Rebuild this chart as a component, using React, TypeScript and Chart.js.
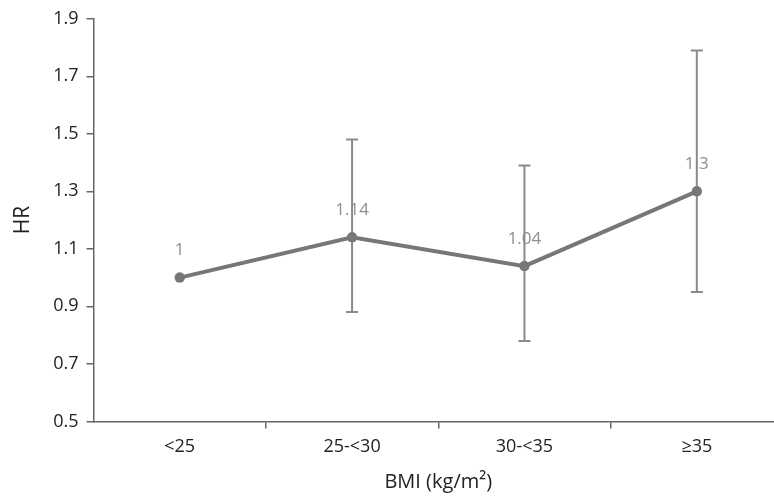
import React, { useEffect, useRef } from "react";
import { Chart, registerables } from "chart.js";

Chart.register(...registerables);

const categories = ["<25", "25-<30", "30-<35", "≥35"];
const hrValues = [1, 1.14, 1.04, 1.3];
const ciLower = [null, 0.88, 0.78, 0.95];
const ciUpper = [null, 1.48, 1.39, 1.79];
const pointLabels = ["1", "1.14", "1.04", "1.3"];

const FONT = "'Open Sans', 'Liberation Sans', sans-serif";

const errorBarPlugin = {
  id: "errorBars",
  afterDatasetsDraw(chart: any) {
    const ctx = chart.ctx;
    const meta = chart.getDatasetMeta(0);
    const y = chart.scales.y;
    ctx.save();
    ctx.strokeStyle = "#8a8a8a";
    ctx.lineWidth = 2;
    meta.data.forEach((pt: any, i: number) => {
      const lo = ciLower[i];
      const hi = ciUpper[i];
      if (lo == null || hi == null) return;
      const x = pt.x;
      const yl = y.getPixelForValue(lo);
      const yh = y.getPixelForValue(hi);
      ctx.beginPath();
      ctx.moveTo(x, yl);
      ctx.lineTo(x, yh);
      ctx.moveTo(x - 6, yl);
      ctx.lineTo(x + 6, yl);
      ctx.moveTo(x - 6, yh);
      ctx.lineTo(x + 6, yh);
      ctx.stroke();
    });
    ctx.fillStyle = "#777777";
    meta.data.forEach((pt: any) => {
      ctx.beginPath();
      ctx.arc(pt.x, pt.y, 5, 0, Math.PI * 2);
      ctx.fill();
    });
    ctx.fillStyle = "#8f8f8f";
    ctx.font = `17px ${FONT}`;
    ctx.textAlign = "center";
    ctx.textBaseline = "middle";
    meta.data.forEach((pt: any, i: number) => {
      ctx.fillText(pointLabels[i], pt.x, pt.y - 27);
    });
    ctx.restore();
  },
};

export default function App() {
  const ref = useRef<HTMLCanvasElement>(null);
  useEffect(() => {
    if (!ref.current) return;
    const last = categories.length;
    const chart = new Chart(ref.current, {
      type: "line",
      data: {
        labels: categories,
        datasets: [
          {
            data: hrValues,
            borderColor: "#777777",
            backgroundColor: "#777777",
            borderWidth: 4,
            pointRadius: 5,
            pointBackgroundColor: "#777777",
            pointBorderWidth: 0,
            tension: 0,
          },
        ],
      },
      options: {
        responsive: false,
        animation: false,
        layout: { padding: { top: 15, right: 0, left: 10, bottom: 4 } },
        plugins: { legend: { display: false }, tooltip: { enabled: false } },
        scales: {
          x: {
            type: "category",
            offset: true,
            grid: {
              offset: true,
              drawOnChartArea: false,
              drawTicks: true,
              tickLength: 7,
              color: (c: any) =>
                c.index === 0 || c.index === last ? "rgba(0,0,0,0)" : "#666",
              lineWidth: 1.5,
            },
            border: { display: true, color: "#666", width: 1.5 },
            ticks: { color: "#222", font: { family: FONT, size: 18 }, padding: 8 },
            title: {
              display: true,
              text: "BMI (kg/m²)",
              color: "#222",
              font: { family: FONT, size: 20 },
              padding: { top: 4, bottom: 0 },
            },
          },
          y: {
            min: 0.5,
            max: 1.9,
            grid: {
              drawOnChartArea: false,
              drawTicks: true,
              tickLength: 7,
              color: "#666",
              lineWidth: 1.5,
            },
            border: { display: true, color: "#666", width: 1.5 },
            ticks: {
              stepSize: 0.2,
              color: "#222",
              font: { family: FONT, size: 18 },
              padding: 8,
              callback: (v: any) => Number(v).toFixed(1),
            },
            title: {
              display: true,
              text: "HR",
              color: "#222",
              font: { family: FONT, size: 21 },
              padding: { top: 0, bottom: 10 },
            },
          },
        },
      },
      plugins: [errorBarPlugin],
    });
    return () => chart.destroy();
  }, []);
  return (
    <div style={{ position: "fixed", left: 0, top: 0, width: 774, height: 504, background: "#fff", overflow: "hidden" }}>
      <canvas ref={ref} width={788} height={498} style={{ display: "block" }} />
    </div>
  );
}
